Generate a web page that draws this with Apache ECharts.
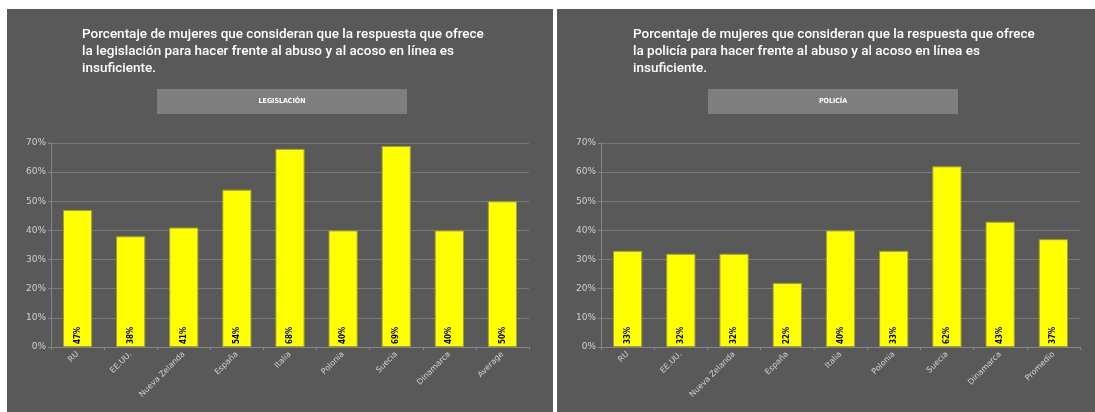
<!DOCTYPE html>
<html>
<head>
<meta charset="utf-8">
<script src="https://cdn.jsdelivr.net/npm/echarts@6/dist/echarts.min.js"></script>
<style>
  html, body { margin: 0; padding: 0; background: #ffffff; }
  #chart { width: 1095px; height: 412px; }
</style>
</head>
<body>
<div id="chart"></div>
<script>
// datos
var catsLegis = ['RU', 'EE.UU.', 'Nueva Zelanda', 'España', 'Italia', 'Polonia', 'Suecia', 'Dinamarca', 'Average'];
var valLegis = [47, 38, 41, 54, 68, 40, 69, 40, 50];
var catsPolicia = ['RU', 'EE.UU.', 'Nueva Zelanda', 'España', 'Italia', 'Polonia', 'Suecia', 'Dinamarca', 'Promedio'];
var valPolicia = [33, 32, 32, 22, 40, 33, 62, 43, 37];
var yTicks = [0, 10, 20, 30, 40, 50, 60, 70];

var titulo1 = 'Porcentaje de mujeres que consideran que la respuesta que ofrece\nla legislación para hacer frente al abuso y al acoso en línea es\ninsuficiente.';
var titulo2 = 'Porcentaje de mujeres que consideran que la respuesta que ofrece\nla policía para hacer frente al abuso y al acoso en línea es\ninsuficiente.';

var fondo = '#595959';
var chart = echarts.init(document.getElementById('chart'));

function ejeX(idx, cats) {
    return {
        type: 'category', gridIndex: idx, data: cats,
        axisLine: { lineStyle: { color: '#858585' } },
        axisTick: { show: true, length: 3, lineStyle: { color: '#858585' } },
        axisLabel: { rotate: 45, color: '#d0d0d0', fontSize: 8, fontFamily: 'DejaVu Sans', margin: 6 }
    };
}
function ejeY(idx) {
    return {
        type: 'value', gridIndex: idx, min: 0, max: 70, interval: 10,
        axisLine: { show: true, lineStyle: { color: '#858585' } },
        axisTick: { show: true, length: 3, lineStyle: { color: '#858585' } },
        splitLine: { lineStyle: { color: '#7a7a7a' } },
        axisLabel: { color: '#d0d0d0', fontSize: 9, fontFamily: 'DejaVu Sans', margin: 5,
            formatter: function (v) { return yTicks.indexOf(v) >= 0 ? v + '%' : ''; } }
    };
}
function serie(idx, vals) {
    return {
        type: 'bar', xAxisIndex: idx, yAxisIndex: idx, data: vals, barWidth: '55%',
        itemStyle: { color: '#ffff00', borderColor: '#9c9c3a', borderWidth: 1 },
        label: {
            show: true, position: 'insideBottom', rotate: 90, align: 'left', verticalAlign: 'middle',
            distance: 3, formatter: '{c}%', color: '#000000', fontSize: 8, fontWeight: 'bold',
            fontFamily: 'DejaVu Sans Condensed'
        }
    };
}

var estiloTitulo = { color: '#ffffff', fontSize: 13.5, fontWeight: 500, lineHeight: 17,
    fontFamily: 'Roboto, sans-serif' };

chart.setOption({
    backgroundColor: '#ffffff',
    animation: false,
    graphic: [
        { type: 'rect', shape: { x: 7, y: 9, width: 546, height: 403 }, style: { fill: fondo }, z: -10 },
        { type: 'rect', shape: { x: 557, y: 9, width: 538, height: 403 }, style: { fill: fondo }, z: -10 },
        { type: 'rect', shape: { x: 157, y: 89, width: 250, height: 25 }, style: { fill: '#7f7f7f' } },
        { type: 'rect', shape: { x: 708, y: 89, width: 250, height: 25 }, style: { fill: '#7f7f7f' } },
        { type: 'text', x: 282, y: 101.5, style: { text: 'LEGISLACIÓN', fill: '#ffffff', fontSize: 7,
            fontWeight: 'bold', fontFamily: 'DejaVu Sans Condensed', align: 'center', verticalAlign: 'middle' } },
        { type: 'text', x: 833, y: 101.5, style: { text: 'POLICÍA', fill: '#ffffff', fontSize: 7,
            fontWeight: 'bold', fontFamily: 'DejaVu Sans Condensed', align: 'center', verticalAlign: 'middle' } }
    ],
    title: [
        { text: titulo1, left: 82, top: 26, textStyle: estiloTitulo, padding: 0 },
        { text: titulo2, left: 633, top: 26, textStyle: estiloTitulo, padding: 0 }
    ],
    grid: [
        { left: 51, top: 143, width: 478, height: 204 },
        { left: 601, top: 143, width: 479, height: 204 }
    ],
    xAxis: [ejeX(0, catsLegis), ejeX(1, catsPolicia)],
    yAxis: [ejeY(0), ejeY(1)],
    series: [serie(0, valLegis), serie(1, valPolicia)]
});
</script>
</body>
</html>
